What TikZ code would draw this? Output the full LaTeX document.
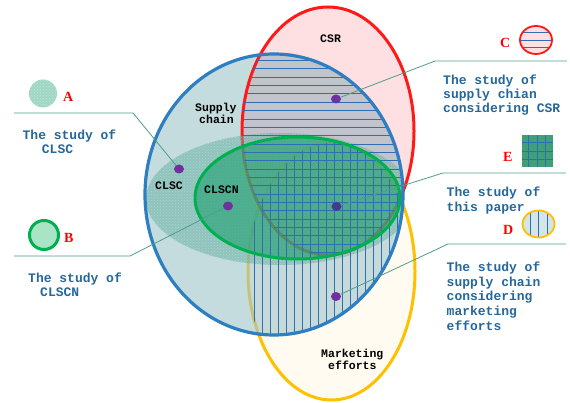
\documentclass[tikz,border=0pt]{standalone}
\usepackage{fontspec}
\newfontfamily\monofnt{Liberation Mono}
\newfontfamily\seriffnt{Liberation Serif}
\usetikzlibrary{patterns,shapes.geometric}
\definecolor{blueedge}{HTML}{2E7EC2}
\definecolor{rededge}{HTML}{FF1A1A}
\definecolor{greenedge}{HTML}{00B050}
\definecolor{yellowedge}{HTML}{FFC000}
\definecolor{bluefill}{HTML}{9FC5CB}
\definecolor{pinkfill}{HTML}{FFE0E2}
\definecolor{redunder}{HTML}{FBC2CE}
\definecolor{cream}{HTML}{FFFBF0}
\definecolor{clscfill}{HTML}{5FAE9E}
\definecolor{greenfill}{HTML}{1FA070}
\definecolor{hatchblue}{HTML}{2F6DB5}
\definecolor{leadgreen}{HTML}{4E9E8A}
\definecolor{dotpurple}{HTML}{7030A0}
\definecolor{descblue}{HTML}{26679A}
\definecolor{iconA}{HTML}{9FD6C4}
\definecolor{iconB}{HTML}{A9E4C5}
\definecolor{iconE}{HTML}{3E9F78}
\definecolor{iconD}{HTML}{D3E5E8}
\def\blueE{(274,194.5) ellipse [x radius=129pt, y radius=140.5pt]}
\def\redE{(328,131) ellipse [x radius=86pt, y radius=124pt]}
\def\yelE{(331.5,271.5) ellipse [x radius=83.5pt, y radius=128.5pt]}
\def\greenE{(297.5,198) ellipse [x radius=102.5pt, y radius=61pt]}
\def\clscE{(280,199) ellipse [x radius=134pt, y radius=66pt]}
\begin{document}
\begin{tikzpicture}[x=1pt,y=-1pt,
  desc/.style={font=\monofnt\bfseries\fontsize{13}{15}\selectfont, text=descblue, anchor=base west, inner sep=0pt},
  inlbl/.style={font=\monofnt\bfseries\fontsize{11.5}{13}\selectfont, text=black, anchor=base west, inner sep=0pt},
  letter/.style={font=\seriffnt\bfseries\fontsize{14}{16}\selectfont, text=red, anchor=base west, inner sep=0pt},
  dot/.style={ellipse, fill=dotpurple, minimum width=10pt, minimum height=9pt, inner sep=0pt},
  leader/.style={draw=leadgreen, line width=0.8pt},
  hatch/.style={draw=hatchblue, line width=0.8pt},
  border/.style={line width=3pt}]
\fill[white] (0,0) rectangle (570,403);
\useasboundingbox (0,0) rectangle (570,403);
% yellow (marketing efforts)
\fill[cream] \yelE;
% red (CSR)
\fill[pinkfill] \redE;
\begin{scope}\clip \blueE; \fill[redunder] \redE; \end{scope}
\draw[yellowedge, border] \yelE;
% blue (supply chain)
\fill[bluefill, fill opacity=0.6] \blueE;
\draw[rededge, border] \redE;
% CLSC texture
\begin{scope}
  \clip \blueE;
  \fill[clscfill, fill opacity=0.5] \clscE;
  \fill[pattern=crosshatch dots, pattern color=white, fill opacity=0.25] \clscE;
\end{scope}
% green (CLSCN)
\fill[greenfill, fill opacity=0.6] \greenE;
% hatching
\begin{scope}
  \clip \blueE; \clip \redE;
  \foreach \k in {0,...,24} {\draw[hatch] (230,{60.5+8.35*\k}) -- (420,{60.5+8.35*\k});}
\end{scope}
\begin{scope}
  \clip \blueE; \clip \yelE;
  \foreach \k in {0,...,20} {\draw[hatch] ({254.5+7.95*\k},140) -- ({254.5+7.95*\k},340);}
\end{scope}
\draw[greenedge, border] \greenE;
\draw[blueedge, line width=3.2pt] \blueE;
% inner labels
\node[inlbl] (lCSR) at (320,43) {CSR};
\node[inlbl] (lSup1) at (195,111.7) {Supply};
\node[inlbl] (lSup2) at (199,124) {chain};
\node[inlbl] (lCLSC) at (155,190) {CLSC};
\node[inlbl] (lCLSCN) at (204,194) {CLSCN};
\node[inlbl] (lMk1) at (321,357) {Marketing};
\node[inlbl] (lMk2) at (328,369) {efforts};
% dots
\node[dot] (dA) at (179,169) {};
\node[dot] (dB) at (228,206) {};
\node[dot] (dC) at (336,99) {};
\node[dot, fill=dotpurple!55!hatchblue!80!black] (dE) at (336.5,206.5) {};
\node[dot] (dD) at (336,296.5) {};
% leader lines
\coordinate (eA) at (14,113); \coordinate (bA) at (133,113);
\coordinate (eB) at (14,256); \coordinate (bB) at (130,256);
\coordinate (eC) at (567,61); \coordinate (bC) at (435,61);
\coordinate (eE) at (566,173); \coordinate (bE) at (443,173);
\coordinate (eD) at (566,244); \coordinate (bD) at (448,244);
\draw[leader] (eA) -- (bA) -- (dA);
\draw[leader] (eB) -- (bB) -- (dB);
\draw[leader] (eC) -- (bC) -- (dC);
\draw[leader] (eE) -- (bE) -- (dE);
\draw[leader] (eD) -- (bD) -- (dD);
% descriptions
\node[desc] (tA1) at (22.5,139.3) {The study of};
\node[desc] (tA2) at (41.7,154) {CLSC};
\node[desc] (tB1) at (28,282.7) {The study of};
\node[desc] (tB2) at (40,297) {CLSCN};
\node[desc] (tC1) at (443,84.3) {The study of};
\node[desc] (tC2) at (443,98.5) {supply chian};
\node[desc] (tC3) at (443,112.7) {considering CSR};
\node[desc] (tE1) at (446.5,196.7) {The study of};
\node[desc] (tE2) at (446.5,211.7) {this paper};
\node[desc] (tD1) at (446.5,271.7) {The study of};
\node[desc] (tD2) at (446.5,286.3) {supply chain};
\node[desc] (tD3) at (446.5,301) {considering};
\node[desc] (tD4) at (446.5,315.7) {marketing};
\node[desc] (tD5) at (446.5,330.5) {efforts};
% icons
\fill[iconA] (43,93.5) circle [radius=14pt];
\fill[pattern=crosshatch dots, pattern color=white, fill opacity=0.35] (43,93.5) circle [radius=14pt];
\draw[greenedge, fill=iconB, line width=3pt] (44,235) circle [radius=14.5pt];
\begin{scope}
  \clip (536,40) ellipse [x radius=16pt, y radius=14pt];
  \fill[pinkfill] (536,40) ellipse [x radius=16pt, y radius=14pt];
  \foreach \yy in {32.5,40,47} {\draw[hatch] (518,\yy) -- (554,\yy);}
\end{scope}
\draw[rededge, line width=1.8pt] (536,40) ellipse [x radius=16pt, y radius=14pt];
\fill[iconE] (522,135.5) rectangle (553,167);
\foreach \xx in {528.5,537,545.5} {\draw[hatch, line width=1pt] (\xx,135.5) -- (\xx,167);}
\foreach \yy in {143,151.5,160} {\draw[hatch, line width=1pt] (522,\yy) -- (553,\yy);}
\begin{scope}
  \clip (538.5,224) ellipse [x radius=16pt, y radius=13.5pt];
  \fill[iconD] (538.5,224) ellipse [x radius=16pt, y radius=13.5pt];
  \foreach \xx in {530,538.5,547} {\draw[hatch] (\xx,208) -- (\xx,240);}
\end{scope}
\draw[yellowedge, line width=1.8pt] (538.5,224) ellipse [x radius=16pt, y radius=13.5pt];
% letters
\node[letter] (LA) at (63,102) {A};
\node[letter] (LB) at (64,243) {B};
\node[letter] (LC) at (500,48) {C};
\node[letter] (LE) at (503,162) {E};
\node[letter] (LD) at (503,235) {D};
\end{tikzpicture}
\end{document}
